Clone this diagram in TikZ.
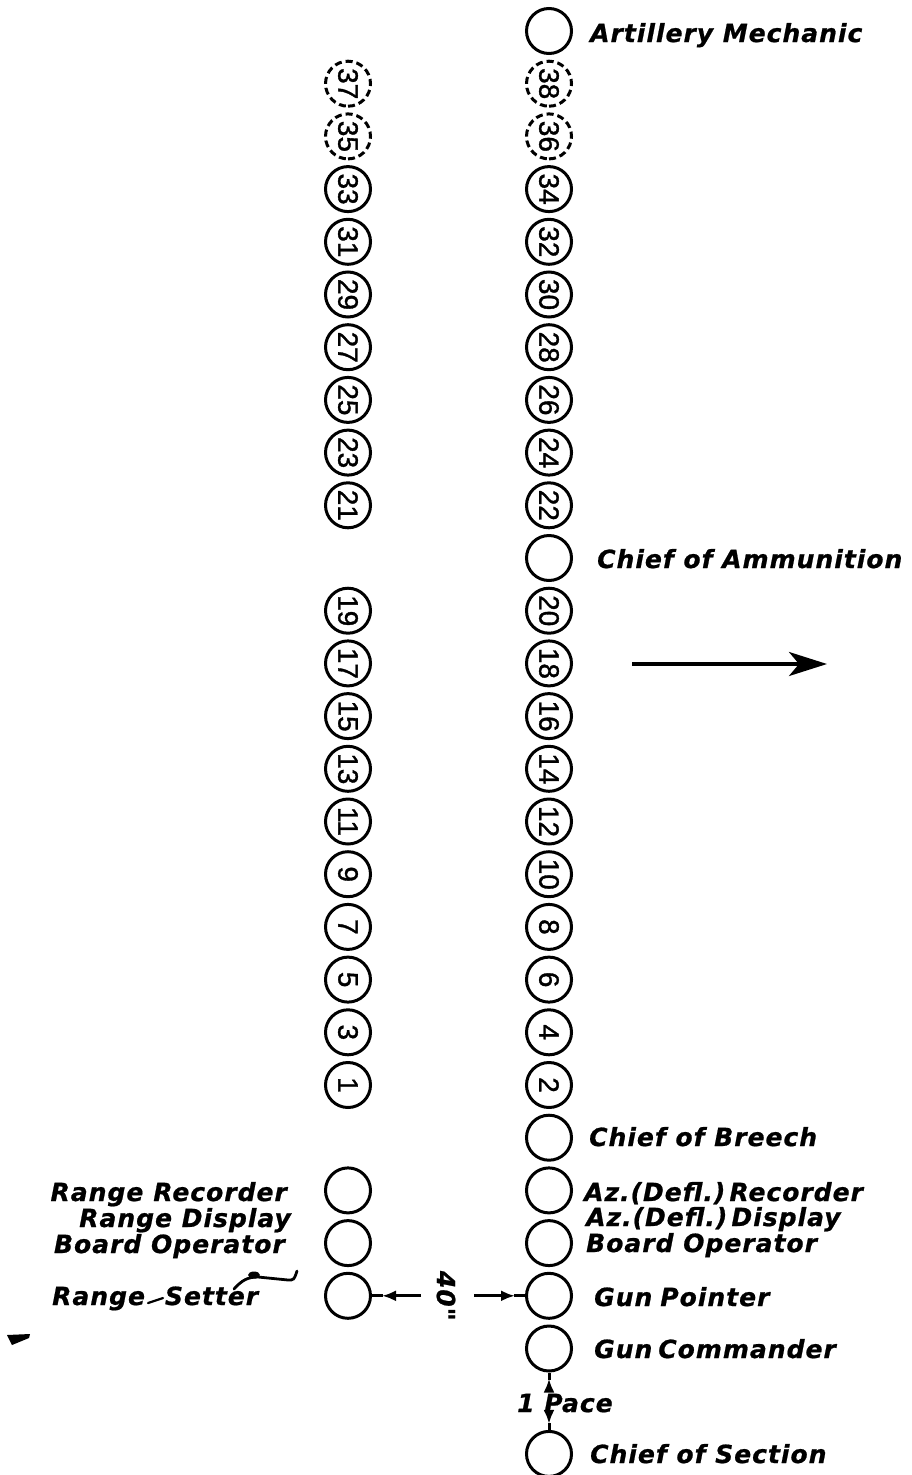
\documentclass[tikz,border=0pt]{standalone}
\usepackage{fontspec}
\setmainfont{DejaVu Sans}[LetterSpace=4]
\newfontfamily\numfont{Liberation Sans}[FakeBold=1.2]
\newfontfamily\lblfont{DejaVu Sans}[LetterSpace=4,FakeBold=0.8]
\usetikzlibrary{arrows.meta}
\tikzset{
  x=1pt, y=-1pt,
  man/.style={circle, draw, line width=3pt, minimum size=45pt, inner sep=0pt},
  mandash/.style={man, dash pattern=on 7pt off 4pt},
  numtxt/.style={font=\numfont\fontsize{28}{28}\selectfont, rotate=-90},
  lbl/.style={font=\lblfont\bfseries\itshape\fontsize{25}{25}\selectfont, anchor=base west, inner sep=0pt},
  lblr/.style={lbl, anchor=base east},
  dimline/.style={line width=3pt},
  dimarr/.style={line width=3pt, -{Latex[length=14pt,width=11pt]}},
  bigarrow/.style={line width=3.5pt, -{Stealth[length=38pt,width=24pt,inset=10pt]}},
}
\begin{document}
\begin{tikzpicture}
\fill[white] (0,0) rectangle (912,1475);
\useasboundingbox (0,0) rectangle (912,1475);
\def\colR{549}
\def\colL{348}
% right column, empty circles
\node[man] (am) at (\colR,{31+52.7*0}) {};
\node[man] (ca) at (\colR,{31+52.7*10}) {};
\node[man] (cb) at (\colR,{31+52.7*21}) {};
\node[man] (azr) at (\colR,{31+52.7*22}) {};
\node[man] (azd) at (\colR,{31+52.7*23}) {};
\node[man] (gp) at (\colR,{31+52.7*24}) {};
\node[man] (gc) at (\colR,{31+52.7*25}) {};
\node[man] (cs) at (\colR,{31+52.7*27}) {};
% right column, numbered
\foreach \n/\k in {38/1,36/2}
  \node[mandash, numtxt] (n\n) at (\colR,{31+52.7*\k}) {\n};
\foreach \n/\k in {34/3,32/4,30/5,28/6,26/7,24/8,22/9,20/11,18/12,16/13,14/14,12/15,10/16,8/17,6/18,4/19,2/20}
  \node[man, numtxt] (n\n) at (\colR,{31+52.7*\k}) {\n};
% left column
\foreach \n/\k in {37/1,35/2}
  \node[mandash, numtxt] (n\n) at (\colL,{31+52.7*\k}) {\n};
\foreach \n/\k in {33/3,31/4,29/5,27/6,25/7,23/8,21/9,19/11,17/12,15/13,13/14,11/15,9/16,7/17,5/18,3/19,1/20}
  \node[man, numtxt] (n\n) at (\colL,{31+52.7*\k}) {\n};
\node[man] (rr) at (\colL,{31+52.7*22}) {};
\node[man] (rd) at (\colL,{31+52.7*23}) {};
\node[man] (rs) at (\colL,{31+52.7*24}) {};
% right labels
\node[lbl] (tam) at (590,42) {Artillery Mechanic};
\node[lbl] (tca) at (597,568) {Chief of Ammunition};
\node[lbl] (tcb) at (589,1146) {Chief of Breech};
\node[lbl] (tazr) at (584,1201) {Az.(Defl.)\,Recorder};
\node[lbl] (tazd) at (586,1226) {Az.(Defl.)\,Display};
\node[lbl] (tbo) at (586,1252) {Board Operator};
\node[lbl] (tgp) at (594,1306) {Gun\hspace{8pt}Pointer};
\node[lbl] (tgc) at (594,1358) {Gun\hspace{6pt}Commander};
\node[lbl] (tcs) at (590,1463) {Chief of Section};
% left labels
\node[lblr] (trr) at (287,1201) {Range\hspace{10pt}Recorder};
\node[lblr] (trd) at (291,1227) {Range Display};
\node[lblr] (tbo2) at (285,1253) {Board Operator};
\node[lbl] (trs) at (52,1305) {Range\hspace{20pt}Setter};
% leader scribble from Range Setter
\coordinate (ldA) at (234,1289);
\coordinate (ldB) at (297,1271);
\draw[line width=2.8pt, line cap=round] (ldA) .. controls (242,1280) and (248,1277) .. (258,1277) -- (288,1280) .. controls (294,1280) .. (ldB);
\fill (254,1275) ellipse (6pt and 3.5pt);
\draw[line width=2.2pt, line cap=round] (148,1303) -- (163,1298);
% 40" dimension
\node[lbl, anchor=center, rotate=-90] (d40) at (446,{31+52.7*24}) {40"};
\coordinate (d40l) at (421,{31+52.7*24});
\coordinate (d40r) at (474,{31+52.7*24});
\draw[dimarr] (d40l) -- ([xshift=10pt]rs.east);
\draw[dimline] ([xshift=11pt]rs.east) -- (rs.east);
\draw[dimarr] (d40r) -- ([xshift=-10pt]gp.west);
\draw[dimline] ([xshift=-11pt]gp.west) -- (gp.west);
% 1 Pace dimension
\node[lbl] (tpace) at (517,1412) {1 Pace};
\coordinate (pu) at (\colR,1388);
\coordinate (pd) at (\colR,1414);
\draw[dimarr] (pu) -- ([yshift=-6pt]gc.south);
\draw[dimline] ([yshift=-7pt]gc.south) -- (gc.south);
\draw[dimarr] (pd) -- ([yshift=6pt]cs.north);
\draw[dimline] ([yshift=7pt]cs.north) -- (cs.north);
% direction arrow
\coordinate (dirS) at (632,664);
\coordinate (dirE) at (827,664);
\draw[bigarrow] (dirS) -- (dirE);
% stray mark
\fill (7,1335) -- (30,1334) -- (29,1338) -- (12,1345) -- cycle;
\end{tikzpicture}
\end{document}
